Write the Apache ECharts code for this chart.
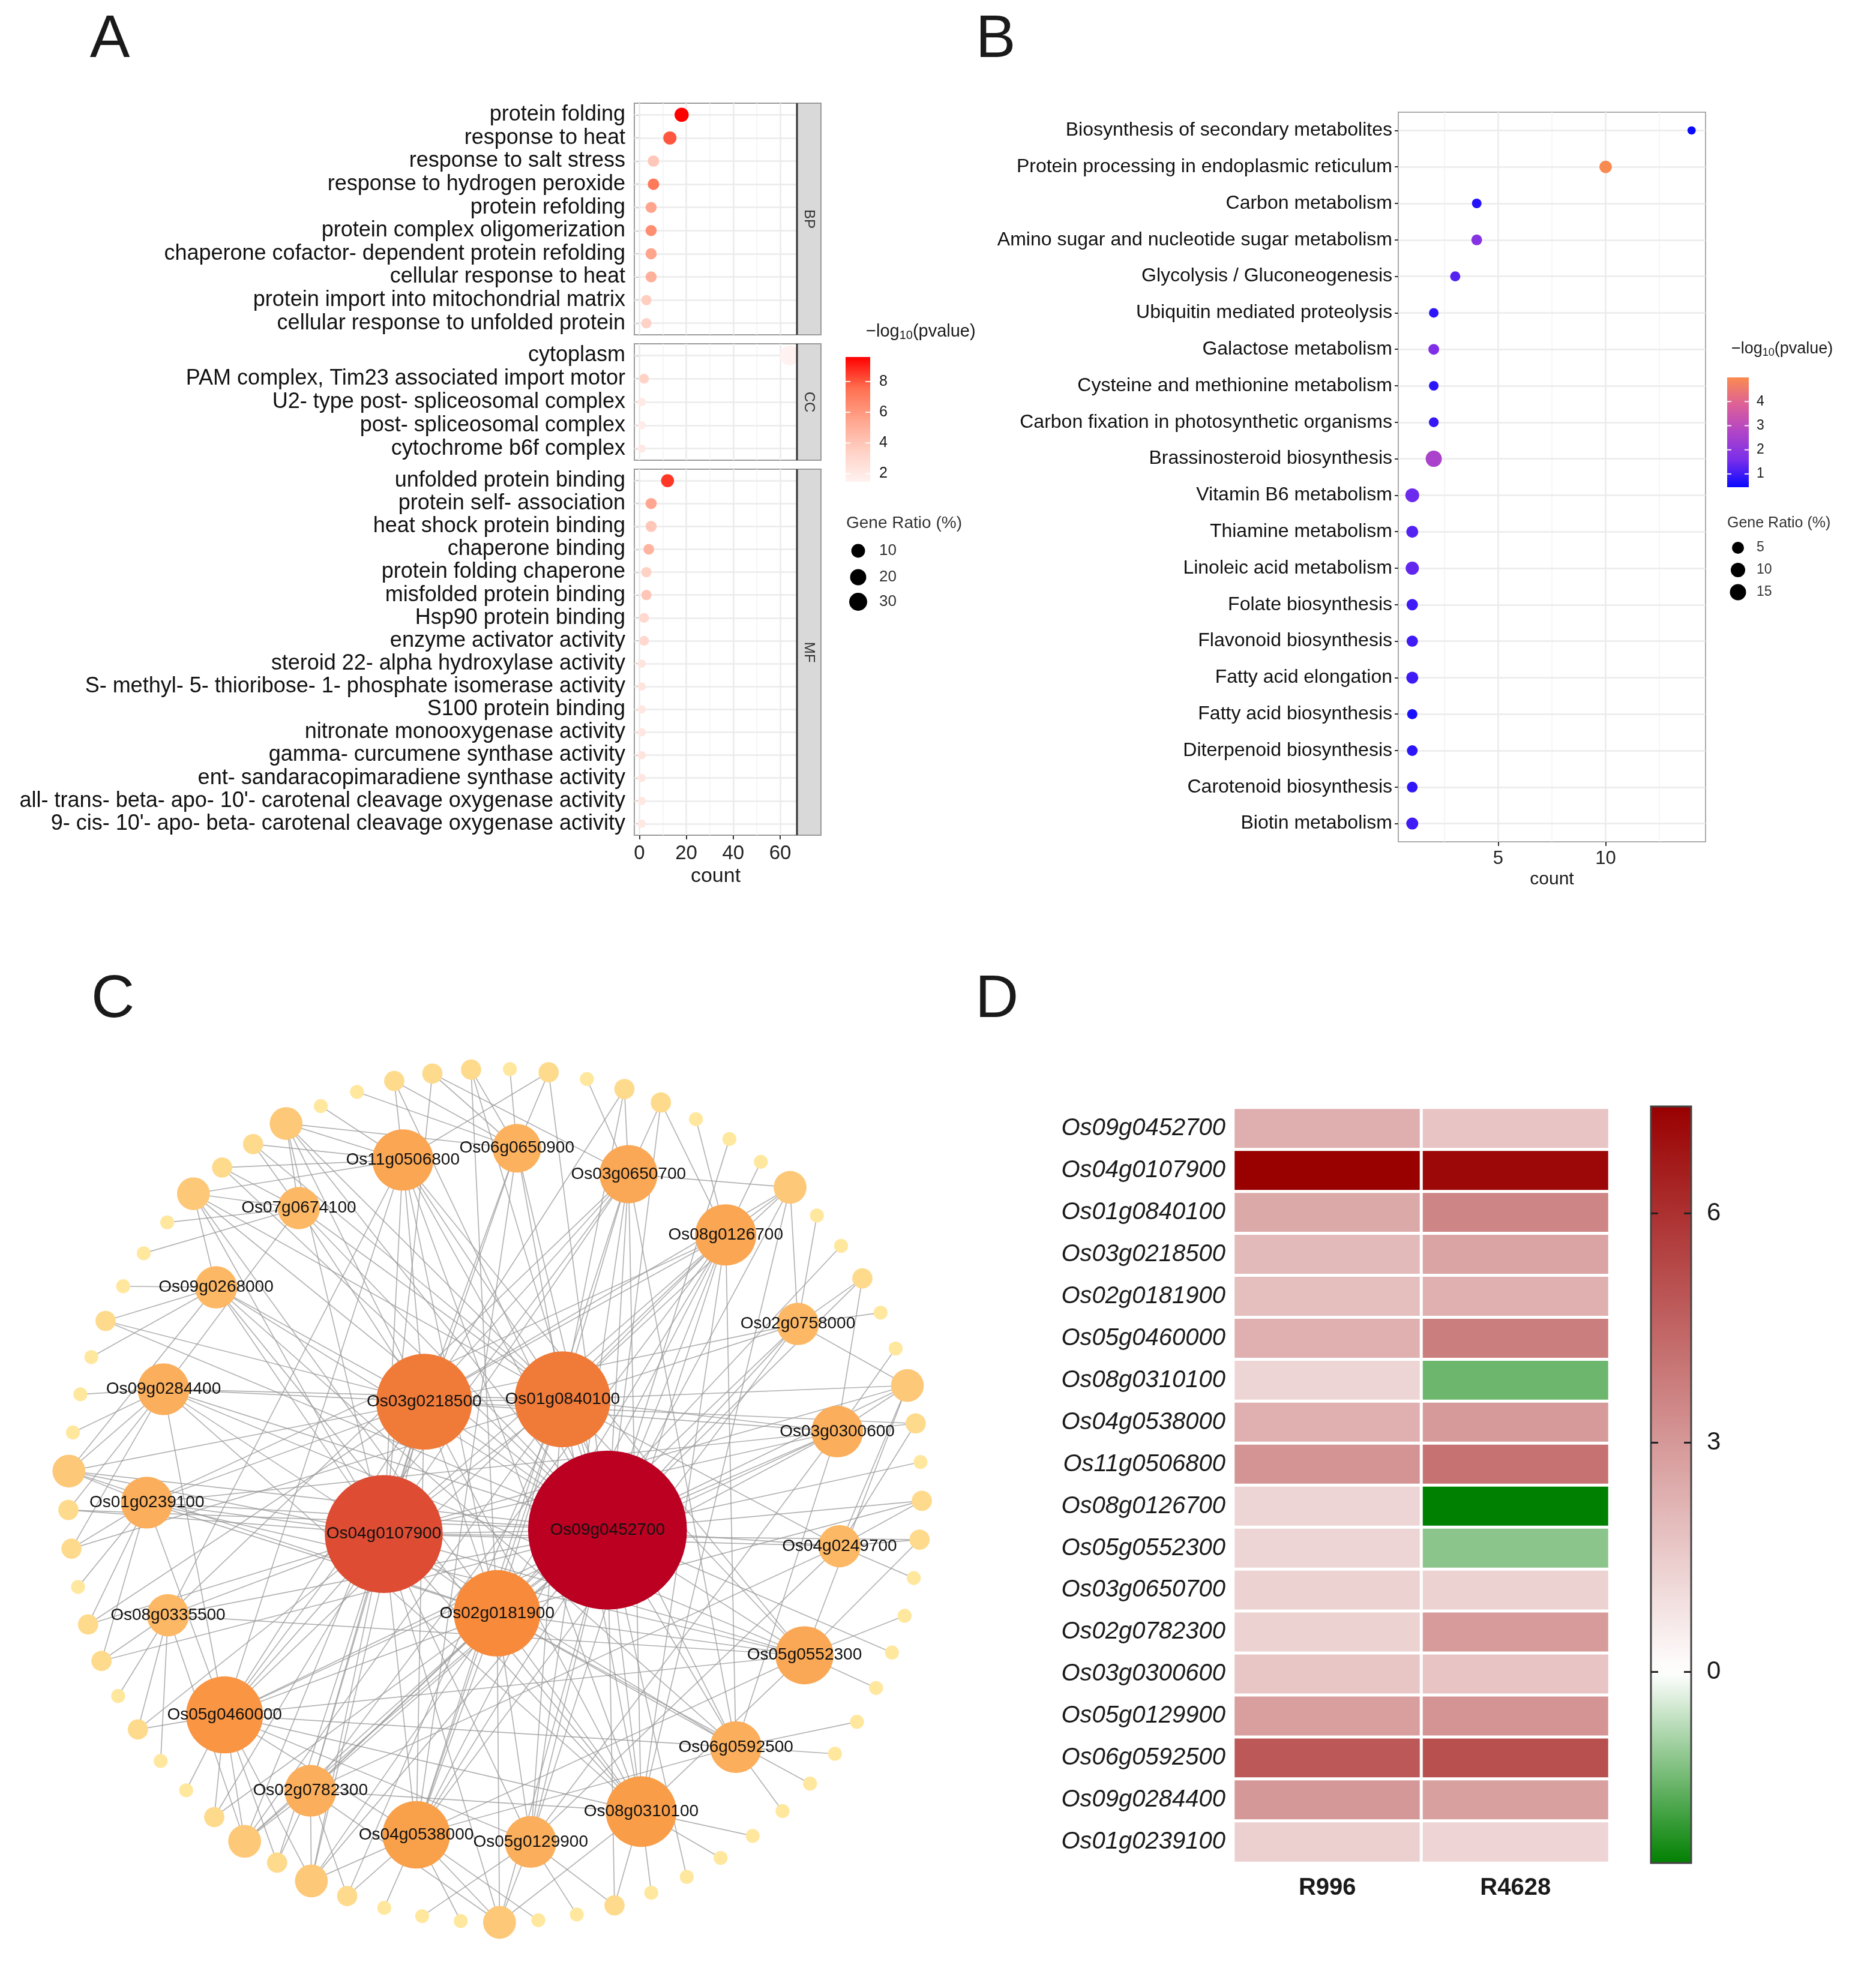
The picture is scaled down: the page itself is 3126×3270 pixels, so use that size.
<!DOCTYPE html>
<html>
<head>
<meta charset="utf-8">
<title>Figure</title>
<script src="https://cdn.jsdelivr.net/npm/echarts@6.0.0/dist/echarts.min.js"></script>
<style>
html,body{margin:0;padding:0;background:#ffffff;}
#chart{width:3126px;height:3270px;}
</style>
</head>
<body>
<div id="chart"></div>
<script>
// ================= DATA =================
// ---- Panel A : GO enrichment (facets BP / CC / MF) ----
const bpTerms = ['protein folding','response to heat','response to salt stress','response to hydrogen peroxide','protein refolding','protein complex oligomerization','chaperone cofactor- dependent protein refolding','cellular response to heat','protein import into mitochondrial matrix','cellular response to unfolded protein'];
const bpCount = [18,13,6,6,5,5,5,5,3,3];
const bpLogP  = [9.6,8.0,3.9,7.2,5.5,6.4,5.5,5.0,3.6,3.4];
const bpRatio = [11.4,8.2,3.8,3.8,3.2,3.2,3.2,3.2,1.9,1.9];

const ccTerms = ['cytoplasm','PAM complex, Tim23 associated import motor','U2- type post- spliceosomal complex','post- spliceosomal complex','cytochrome b6f complex'];
const ccCount = [64,2,1,1,1];
const ccLogP  = [1.47,3.4,2.0,1.8,2.0];
const ccRatio = [40.5,1.3,0.63,0.63,0.63];

const mfTerms = ['unfolded protein binding','protein self- association','heat shock protein binding','chaperone binding','protein folding chaperone','misfolded protein binding','Hsp90 protein binding','enzyme activator activity','steroid 22- alpha hydroxylase activity','S- methyl- 5- thioribose- 1- phosphate isomerase activity','S100 protein binding','nitronate monooxygenase activity','gamma- curcumene synthase activity','ent- sandaracopimaradiene synthase activity',"all- trans- beta- apo- 10'- carotenal cleavage oxygenase activity","9- cis- 10'- apo- beta- carotenal cleavage oxygenase activity"];
const mfCount = [12,5,5,4,3,3,2,2,1,1,1,1,1,1,1,1];
const mfLogP  = [8.6,5.4,3.9,4.8,3.4,4.0,3.0,3.0,2.3,2.3,2.2,2.2,2.3,2.2,2.1,2.1];
const mfRatio = [7.6,3.2,3.2,2.5,1.9,1.9,1.3,1.3,0.63,0.63,0.63,0.63,0.63,0.63,0.63,0.63];

const aTicks = [0,20,40,60];
const aMinorTicks = [10,30,50];
const aColorTicks = [2,4,6,8];
const aSizeBreaks = [10,20,30];

// ---- Panel B : KEGG enrichment ----
const keggTerms = ['Biosynthesis of secondary metabolites','Protein processing in endoplasmic reticulum','Carbon metabolism','Amino sugar and nucleotide sugar metabolism','Glycolysis / Gluconeogenesis','Ubiquitin mediated proteolysis','Galactose metabolism','Cysteine and methionine metabolism','Carbon fixation in photosynthetic organisms','Brassinosteroid biosynthesis','Vitamin B6 metabolism','Thiamine metabolism','Linoleic acid metabolism','Folate biosynthesis','Flavonoid biosynthesis','Fatty acid elongation','Fatty acid biosynthesis','Diterpenoid biosynthesis','Carotenoid biosynthesis','Biotin metabolism'];
const keggCount = [14,10,4,4,3,2,2,2,2,2,1,1,1,1,1,1,1,1,1,1];
const keggLogP  = [0.45,5.0,0.7,1.85,1.2,0.8,1.7,0.8,0.9,2.6,1.45,1.2,1.35,1.0,1.0,1.0,0.6,0.8,0.85,1.0];
const keggRatio = [1.2,6,2,3.2,2.5,2,3.2,2,2.2,15,8.6,5,7.3,4,4,5,2.6,3.2,3.2,5];

const bTicks = [5,10];
const bMinorTicks = [2.5,7.5,12.5];
const bColorTicks = [1,2,3,4];
const bSizeBreaks = [5,10,15];

// ---- Panel C : co-expression network ----
const innerRing = ['Os09g0452700','Os02g0181900','Os04g0107900','Os03g0218500','Os01g0840100'];
const middleRing = ['Os06g0650900','Os03g0650700','Os08g0126700','Os02g0758000','Os03g0300600','Os04g0249700','Os05g0552300','Os06g0592500','Os08g0310100','Os05g0129900','Os04g0538000','Os02g0782300','Os05g0460000','Os08g0335500','Os01g0239100','Os09g0284400','Os09g0268000','Os07g0674100','Os11g0506800'];
// links among the labelled genes (index -> list of higher indices)
const coreLinks = [
 [1,2,3,4,5,6,7,8,9,10,11,12,13,14,15,16,17,18,19,20,21,22,23],
 [2,3,4,7,9,11,12,13,14,15,16,17,19,23],
 [3,4,5,6,7,9,10,11,12,13,14,15,16,17,18,19,20,21,23],
 [4,5,6,7,8,9,13,15,16,17,19,20,21,22,23],
 [5,6,7,8,9,10,11,12,13,14,15,20,22,23],
 [15],
 [12,13,14,15,17,18],
 [12,13,14,15,16,17,19],
 [15,16],
 [12,14,17,19],
 [14,16],
 [13,15,17,18,19,20,23],
 [15,17,21],
 [16,17,20,21,23],
 [17],
 [17],
 [],
 [19,20,23],
 [23],
 [],
 [22],
 [],[],[]
];
// unlabelled peripheral genes (clockwise from top) -> linked labelled genes
const outerLinks = [
 [5],[5,0,23],[6],[6,4,3],[6,0,7],[7],[0],[7],[7,8,0,4,6,3,13],[8],
 [1],[8,9,0],[8],[9],[9,8,0,2,4,10,11],[9,10,3],[0],[10,0,1],[10,11,2],[10],
 [11],[0],[11],[12],[12],[1],[12],[13],[13],[0],
 [13],[14,13,0],[14],[15],[14,15,0,2,1,13,16],[15],[14],[15],[16,15,4],[16,17,0,2,3,15,1],
 [16,17,2],[17,16,0,1,4,18,3],[17,2,0],[17],[18],[18,17,2],[18],[18,19,0],[19,3,2],[19],
 [19,20,4],[20,0,2],[20,19,0,2,3,1,21],[20],[20],[21],[21,0,3],[21],[22],[22],
 [22,21,0,2,4,23,1],[22,23,0],[23,22,4],[23,5,0,2,3,4,22],[23],[5],[5,23,0],[5,6,2],[5,0,1]
];

// ---- Panel D : expression heatmap ----
const heatGenes = ['Os09g0452700','Os04g0107900','Os01g0840100','Os03g0218500','Os02g0181900','Os05g0460000','Os08g0310100','Os04g0538000','Os11g0506800','Os08g0126700','Os05g0552300','Os03g0650700','Os02g0782300','Os03g0300600','Os05g0129900','Os06g0592500','Os09g0284400','Os01g0239100'];
const heatSamples = ['R996','R4628'];
const heatR996  = [2.35,7.4,2.5,2.0,1.9,2.3,1.2,2.3,3.1,1.2,1.2,1.3,1.3,1.65,2.8,4.85,3.0,1.36];
const heatR4628 = [1.7,7.2,3.55,2.65,2.3,3.75,-1.43,2.93,4.1,-2.5,-1.13,1.3,2.9,1.7,3.1,5.1,2.75,1.25];
const dColorTicks = [6,3,0];

// ================= HELPERS =================
const FONT = '"Liberation Sans", Arial, Helvetica, sans-serif';
function hexToRgb(h){ h=h.replace('#',''); return [parseInt(h.slice(0,2),16),parseInt(h.slice(2,4),16),parseInt(h.slice(4,6),16)]; }
function mix(c1,c2,t){ const a=hexToRgb(c1), b=hexToRgb(c2); t=Math.max(0,Math.min(1,t)); return 'rgb('+a.map((v,i)=>Math.round(v+(b[i]-v)*t)).join(',')+')'; }
function stopColor(stops, v){
  if (v<=stops[0][0]) return mix(stops[0][1],stops[0][1],0);
  for (let i=1;i<stops.length;i++){
    if (v<=stops[i][0]) { const t=(v-stops[i-1][0])/(stops[i][0]-stops[i-1][0]); return mix(stops[i-1][1], stops[i][1], t); }
  }
  const l=stops[stops.length-1][1]; return mix(l,l,0);
}
function T(text, x, y, size, o){
  o = o || {};
  const col = o.color || '#1a1a1a';
  const st = {text:text, fontSize:size, fontFamily:FONT, fontWeight:o.weight||'normal', fontStyle:o.fstyle||'normal',
    fill:col, textFill:col, align:o.align||'left', textAlign:o.align||'left',
    verticalAlign:o.valign||'middle', textVerticalAlign:o.valign||'middle'};
  if (o.rich) st.rich = o.rich;
  return {type:'text', x:x, y:y, rotation:o.rotation||0, z:30, silent:true, style:st};
}
function logTitle(x, y, size){
  const sub = Math.round(size*0.68);
  return T('{m|\u2212log}{s|10}{m|(pvalue)}', x, y, size, {rich:{
    m:{fontSize:size, fontFamily:FONT, fill:'#1a1a1a', textFill:'#1a1a1a'},
    s:{fontSize:sub, fontFamily:FONT, fill:'#1a1a1a', textFill:'#1a1a1a', padding:[Math.round(size*0.45),0,0,0]}
  }});
}
const sizeA = r => 13.8 + 2.98*Math.sqrt(Math.max(r-0.63,0));
const sizeB = r => 12 + 4*Math.sqrt(Math.max(r-1,0));
const nodeSize = d => 18 + 5.25*d;

function buildPts(terms, count, logp, ratio){ return terms.map((t,i)=>[count[i], t, logp[i], ratio[i]]); }
function gridLines(xMajor, xMinor, nCats){
  const maj = {color:'#EBEBEB', width:2.5, type:'solid'};
  const mnr = {color:'#F3F3F3', width:1.5, type:'solid'};
  const data = [];
  xMinor.forEach(v=>data.push({xAxis:v, lineStyle:mnr}));
  xMajor.forEach(v=>data.push({xAxis:v, lineStyle:maj}));
  for (let i=0;i<nCats;i++) data.push({yAxis:i, lineStyle:maj});
  return {silent:true, z:1, symbol:['none','none'], label:{show:false}, lineStyle:{type:'solid', color:'#EBEBEB', width:2.5},
          emphasis:{disabled:true}, animation:false, data:data};
}
function colorbar(g, x, y, w, h, colors, vmin, vmax, ticks, o){
  const n = colors.length-1;
  const stops = colors.map((c,i)=>({offset: 1 - i/n, color:c})).reverse();
  g.push({type:'rect', z:25, silent:true, shape:{x:x, y:y, width:w, height:h},
    style:{fill:{type:'linear', x:0, y:0, x2:0, y2:1, colorStops:stops}, stroke:o.border||null, lineWidth:o.borderWidth||0}});
  ticks.forEach(v=>{
    const ty = y + (vmax - v)/(vmax - vmin)*h;
    g.push({type:'line', z:26, silent:true, shape:{x1:x, y1:ty, x2:x+o.tickLen, y2:ty}, style:{stroke:o.tickColor, lineWidth:o.tickWidth}});
    g.push({type:'line', z:26, silent:true, shape:{x1:x+w-o.tickLen, y1:ty, x2:x+w, y2:ty}, style:{stroke:o.tickColor, lineWidth:o.tickWidth}});
    g.push(T(String(v), x+w+o.labelGap, ty, o.fontSize));
  });
}

// ================= SCALES =================
const aAllCounts = bpCount.concat(ccCount, mfCount);
const aCMin = Math.min(...aAllCounts), aCMax = Math.max(...aAllCounts);
const aXMin = aCMin - 0.05*(aCMax-aCMin), aXMax = aCMax + 0.05*(aCMax-aCMin);
const aAllP = bpLogP.concat(ccLogP, mfLogP);
const aPMin = Math.min(...aAllP), aPMax = Math.max(...aAllP);
const aColors = ['#FFF2F0','#FFD0C4','#FFA48C','#FF6F50','#FF0000'];

const bCMin = Math.min(...keggCount), bCMax = Math.max(...keggCount);
const bXMin = bCMin - 0.05*(bCMax-bCMin), bXMax = bCMax + 0.05*(bCMax-bCMin);
const bPMin = Math.min(...keggLogP), bPMax = Math.max(...keggLogP);
const bColors = ['#0A0AFF','#7A2EEA','#B044C8','#DD6098','#FA8B50'];

const dMin = Math.min(...heatR996, ...heatR4628), dMax = Math.max(...heatR996, ...heatR4628);
function divColor(v){ return v<0 ? mix('#FFFFFF','#008000', v/dMin) : mix('#FFFFFF','#990000', v/dMax); }
const dColors = []; for (let i=0;i<=60;i++) dColors.push(divColor(dMin + (dMax-dMin)*i/60));

const degStops = [[1,'#FFE79E'],[3,'#FEDA8C'],[7,'#FDC878'],[10,'#FDB865'],[13,'#FBAE5B'],[19,'#F99D48'],[24,'#F88A3B'],[27,'#F07A38'],[34,'#DD4C33'],[47,'#BB0022']];

// ================= LAYOUT =================
const A_LEFT = 1057, A_W = 271;
const aFacets = [
  {label:'BP', terms:bpTerms, count:bpCount, logp:bpLogP, ratio:bpRatio, top:172, height:386},
  {label:'CC', terms:ccTerms, count:ccCount, logp:ccLogP, ratio:ccRatio, top:573, height:194},
  {label:'MF', terms:mfTerms, count:mfCount, logp:mfLogP, ratio:mfRatio, top:782, height:610}
];
const B_GRID = {left:2330, top:187, width:512, height:1216};
const D_GRID = {left:2055, top:1846, width:627, height:1259};
const NET = {cx:825, cy:2493, rOuter:711, rMiddle:580, rInner:196, startOuter:-88, startMiddle:-86.4, startInner:17};

// ---- network nodes & links ----
const coreNames = innerRing.concat(middleRing);
const NN = coreNames.length + outerLinks.length;
const deg = new Array(NN).fill(0);
const links = [];
coreLinks.forEach((lst,i)=>lst.forEach(j=>{ links.push({source:i, target:j}); deg[i]++; deg[j]++; }));
outerLinks.forEach((lst,k)=>lst.forEach(j=>{ const s = coreNames.length+k; links.push({source:s, target:j}); deg[s]++; deg[j]++; }));
function ringPos(i, n, r, start){ const a=(start + i*360/n)*Math.PI/180; return [r*Math.cos(a), r*Math.sin(a)]; }
const nodes = [];
for (let i=0;i<NN;i++){
  const isCore = i < coreNames.length;
  let p;
  if (i < innerRing.length) p = ringPos(i, innerRing.length, NET.rInner, NET.startInner);
  else if (isCore) p = ringPos(i-innerRing.length, middleRing.length, NET.rMiddle, NET.startMiddle);
  else p = ringPos(i-coreNames.length, outerLinks.length, NET.rOuter, NET.startOuter);
  nodes.push({name: isCore ? coreNames[i] : 'g'+(i-coreNames.length+1), x:p[0], y:p[1], value:deg[i],
    symbolSize: nodeSize(deg[i]), itemStyle:{color: stopColor(degStops, deg[i])}, label:{show:isCore}});
}

// ---- heatmap data ----
const heatData = [];
heatGenes.forEach((gname,i)=>{ heatData.push([0,i,heatR996[i]]); heatData.push([1,i,heatR4628[i]]); });

// ================= GRAPHIC ELEMENTS =================
const g = [];
g.push(T('A', 183, 67, 100, {align:'center'}));
g.push(T('B', 1659, 67, 100, {align:'center'}));
g.push(T('C', 188, 1667, 100, {align:'center'}));
g.push(T('D', 1661, 1667, 100, {align:'center'}));
// facet strips (A)
aFacets.forEach(f=>{
  g.push({type:'rect', z:20, silent:true, shape:{x:A_LEFT+A_W, y:f.top, width:40, height:f.height}, style:{fill:'#D9D9D9', stroke:'#9a9a9a', lineWidth:2}});
  g.push({type:'line', z:21, silent:true, shape:{x1:A_LEFT+A_W, y1:f.top, x2:A_LEFT+A_W, y2:f.top+f.height}, style:{stroke:'#333333', lineWidth:3}});
  g.push(T(f.label, A_LEFT+A_W+20, f.top+f.height/2, 24, {align:'center', rotation:-Math.PI/2, color:'#333'}));
});
// A legends
g.push(logTitle(1443, 553, 29));
colorbar(g, 1409, 595, 41, 208, aColors, aPMin, aPMax, aColorTicks, {tickLen:8, tickWidth:2, tickColor:'rgba(255,255,255,0.9)', labelGap:15, fontSize:25});
g.push(T('Gene Ratio (%)', 1410, 872, 28, {color:'#333'}));
[918,962,1003].forEach((yy,i)=>{
  g.push({type:'circle', z:25, silent:true, shape:{cx:1430, cy:yy, r:sizeA(aSizeBreaks[i])/2}, style:{fill:'#000'}});
  g.push(T(String(aSizeBreaks[i]), 1465, yy, 26, {color:'#333'}));
});
// B legends
g.push(logTitle(2885, 582, 27));
colorbar(g, 2878, 629, 36, 183, bColors, bPMin, bPMax, bColorTicks, {tickLen:7, tickWidth:2, tickColor:'rgba(255,255,255,0.9)', labelGap:13, fontSize:23});
g.push(T('Gene Ratio (%)', 2878, 872, 25, {color:'#333'}));
[913,950,987].forEach((yy,i)=>{
  g.push({type:'circle', z:25, silent:true, shape:{cx:2896, cy:yy, r:sizeB(bSizeBreaks[i])/2}, style:{fill:'#000'}});
  g.push(T(String(bSizeBreaks[i]), 2927, yy, 23, {color:'#333'}));
});
// D colour bar
colorbar(g, 2751, 1844, 67, 1261, dColors, dMin, dMax, dColorTicks, {tickLen:12, tickWidth:3, tickColor:'#222', labelGap:26, fontSize:42, border:'#444', borderWidth:3});

// ================= OPTION =================
const grids = aFacets.map(f=>({left:A_LEFT, top:f.top, width:A_W, height:f.height, show:true, borderColor:'#9a9a9a', borderWidth:2, backgroundColor:'#ffffff', containLabel:false, outerBoundsMode:'none'}));
grids.push(Object.assign({show:true, borderColor:'#ababab', borderWidth:2, backgroundColor:'#ffffff', containLabel:false, outerBoundsMode:'none'}, B_GRID));
grids.push(Object.assign({show:false, containLabel:false, outerBoundsMode:'none'}, D_GRID));

const xAxes = aFacets.map((f,i)=>{
  const last = i === aFacets.length-1;
  return {gridIndex:i, type:'value', min:aXMin, max:aXMax, splitNumber:3, show:last,
    axisLine:{show:false}, splitLine:{show:false},
    axisTick:{show:true, length:7, lineStyle:{color:'#333', width:2}, customValues:aTicks},
    axisLabel:{show:true, fontSize:33, color:'#222', margin:14, fontFamily:FONT, customValues:aTicks},
    name: last ? 'count' : '', nameLocation:'middle', nameGap:52, nameTextStyle:{fontSize:34, color:'#1a1a1a', fontFamily:FONT}};
});
xAxes.push({gridIndex:3, type:'value', min:bXMin, max:bXMax, splitNumber:3,
  axisLine:{show:false}, splitLine:{show:false},
  axisTick:{show:true, length:7, lineStyle:{color:'#333', width:2}, customValues:bTicks},
  axisLabel:{fontSize:31, color:'#222', margin:13, fontFamily:FONT, customValues:bTicks},
  name:'count', nameLocation:'middle', nameGap:48, nameTextStyle:{fontSize:30, color:'#1a1a1a', fontFamily:FONT}});
xAxes.push({gridIndex:4, type:'category', data:heatSamples, axisLine:{show:false}, axisTick:{show:false}, splitLine:{show:false},
  axisLabel:{fontSize:40, fontWeight:'bold', color:'#1a1a1a', margin:22, fontFamily:FONT}});

const yAxes = aFacets.map((f,i)=>({gridIndex:i, type:'category', data:f.terms, inverse:true,
  axisLine:{show:false}, splitLine:{show:false},
  axisTick:{show:true, alignWithLabel:true, length:6, lineStyle:{color:'#333', width:2}},
  axisLabel:{interval:0, fontSize:36, color:'#111', margin:15, fontFamily:FONT}}));
yAxes.push({gridIndex:3, type:'category', data:keggTerms, inverse:true,
  axisLine:{show:false}, splitLine:{show:false},
  axisTick:{show:true, alignWithLabel:true, length:6, lineStyle:{color:'#333', width:2}},
  axisLabel:{interval:0, fontSize:32, color:'#111', margin:10, fontFamily:FONT}});
yAxes.push({gridIndex:4, type:'category', data:heatGenes, inverse:true,
  axisLine:{show:false}, axisTick:{show:false}, splitLine:{show:false},
  axisLabel:{interval:0, fontSize:40, fontStyle:'italic', color:'#1a1a1a', margin:13, fontFamily:FONT}});

const series = aFacets.map((f,i)=>({type:'scatter', xAxisIndex:i, yAxisIndex:i, z:3,
  data: buildPts(f.terms, f.count, f.logp, f.ratio),
  symbolSize: v=>sizeA(v[3]), itemStyle:{opacity:1}, emphasis:{disabled:true},
  markLine: gridLines(aTicks, aMinorTicks, f.terms.length)}));
series.push({type:'scatter', xAxisIndex:3, yAxisIndex:3, z:3,
  data: buildPts(keggTerms, keggCount, keggLogP, keggRatio),
  symbolSize: v=>sizeB(v[3]), itemStyle:{opacity:1}, emphasis:{disabled:true},
  markLine: gridLines(bTicks, bMinorTicks, keggTerms.length)});
series.push({type:'heatmap', xAxisIndex:4, yAxisIndex:4, data:heatData,
  itemStyle:{borderColor:'#ffffff', borderWidth:5}, emphasis:{disabled:true}});
series.push({type:'graph', layout:'none', roam:false, z:2,
  left:NET.cx-NET.rOuter, top:NET.cy-NET.rOuter, width:2*NET.rOuter, height:2*NET.rOuter,
  data:nodes, links:links, symbol:'circle',
  lineStyle:{color:'#9a9a9a', width:1.7, opacity:0.75, curveness:0},
  label:{show:false, position:'inside', fontSize:28, color:'#111', fontFamily:FONT},
  emphasis:{disabled:true}});

const option = {
  animation:false,
  backgroundColor:'#ffffff',
  textStyle:{fontFamily:FONT},
  grid:grids,
  xAxis:xAxes,
  yAxis:yAxes,
  visualMap:[
    {type:'continuous', show:false, seriesIndex:[0,1,2], dimension:2, min:aPMin, max:aPMax, inRange:{color:aColors}},
    {type:'continuous', show:false, seriesIndex:3, dimension:2, min:bPMin, max:bPMax, inRange:{color:bColors}},
    {type:'continuous', show:false, seriesIndex:4, dimension:2, min:dMin, max:dMax, inRange:{color:dColors}}
  ],
  series:series,
  graphic:{elements:g}
};

const chart = echarts.init(document.getElementById('chart'), null, {renderer:'canvas', width:3126, height:3270});
chart.setOption(option);
</script>
</body>
</html>
